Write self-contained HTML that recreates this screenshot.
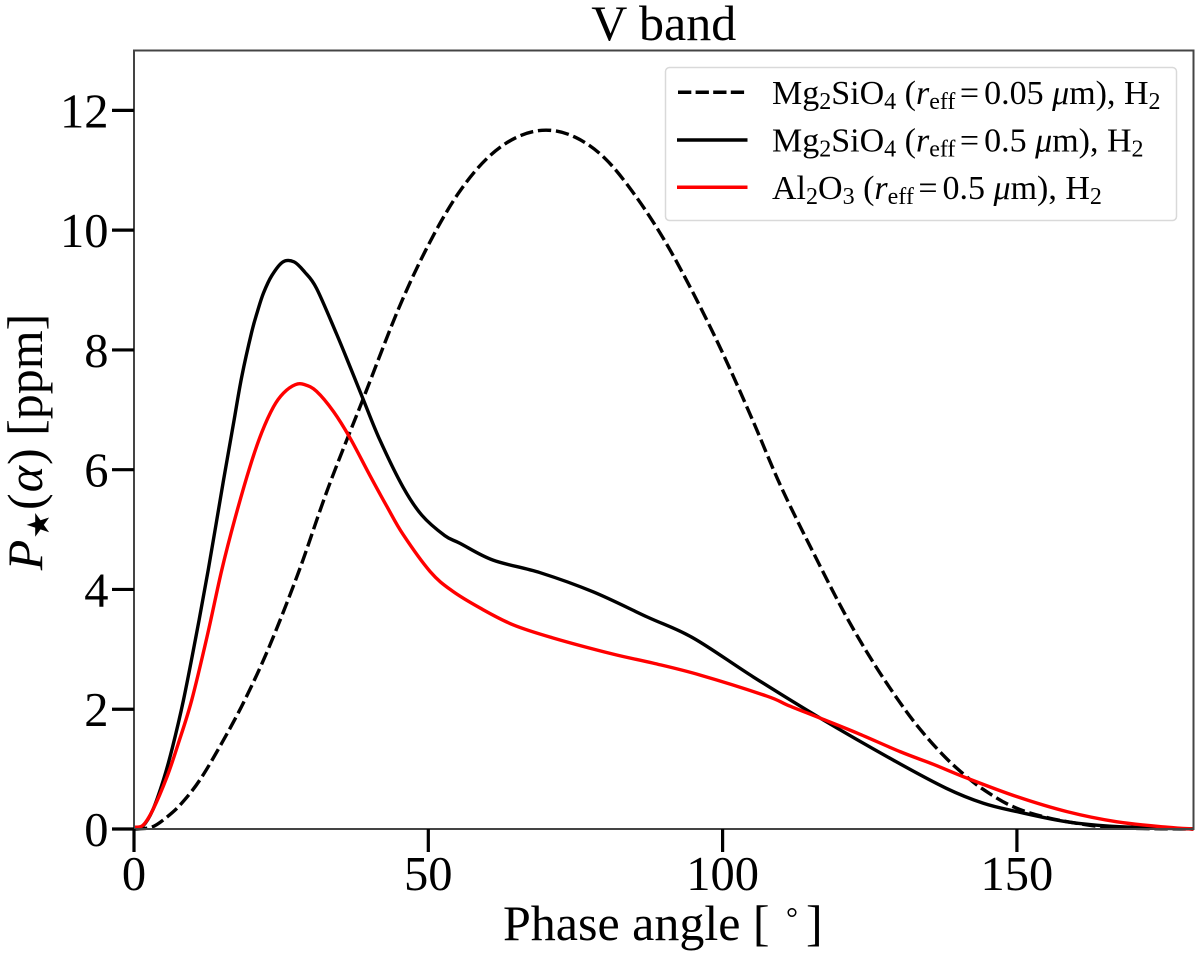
<!DOCTYPE html>
<html lang="en">
<head>
<meta charset="utf-8">
<title>V band phase curve</title>
<style>
html,body{margin:0;padding:0;background:#fff;}
svg{display:block;font-family:"Liberation Serif","DejaVu Serif",serif;fill:#000;}
</style>
</head>
<body>
<svg id="chart" xmlns="http://www.w3.org/2000/svg" width="1200" height="957" viewBox="0 0 1200 957">
  <rect x="0" y="0" width="1200" height="957" fill="#fff"/>
  <text x="663.75" y="40" font-size="50" text-anchor="middle">V band</text>
  <g id="series" fill="none"></g>
  <rect x="134" y="50.5" width="1059.5" height="778.5" fill="none" stroke="#444" stroke-width="2"/>
  <g id="ticks"></g>
  <text x="503" y="940" font-size="50">Phase angle [<tspan x="786" y="928" font-size="30">°</tspan><tspan x="806" y="940">]</tspan></text>
  <text transform="translate(42,442) rotate(-90)" font-size="50" text-anchor="middle"><tspan font-style="italic">P</tspan><tspan font-size="31" dy="7" dx="1">★</tspan><tspan dy="-7" dx="1">(</tspan><tspan font-style="italic" dx="1">α</tspan><tspan dx="1">)</tspan> [ppm]</text>

  <g>
    <rect x="665.5" y="67.5" width="511" height="153" rx="4" fill="#fff" stroke="#d9d9d9" stroke-width="1.5"/>
    <line x1="678" y1="92.3" x2="745" y2="92.3" stroke="#000" stroke-width="3.5" stroke-dasharray="13.3 4.3"/>
    <line x1="677" y1="140" x2="747.5" y2="140" stroke="#000" stroke-width="3.5"/>
    <line x1="677" y1="187.3" x2="747.5" y2="187.3" stroke="#f00" stroke-width="3.5"/>
    <text x="772" y="104" font-size="34">Mg<tspan font-size="24" dy="5">2</tspan><tspan dy="-5">SiO</tspan><tspan font-size="24" dy="5">4</tspan><tspan dy="-5"> (</tspan><tspan font-style="italic">r</tspan><tspan font-size="24" dy="5">eff</tspan><tspan dy="-5" dx="4.5">=</tspan><tspan dx="5">0.05 </tspan><tspan font-style="italic">μ</tspan>m), H<tspan font-size="24" dy="5">2</tspan></text>
    <text x="772" y="151.5" font-size="34">Mg<tspan font-size="24" dy="5">2</tspan><tspan dy="-5">SiO</tspan><tspan font-size="24" dy="5">4</tspan><tspan dy="-5"> (</tspan><tspan font-style="italic">r</tspan><tspan font-size="24" dy="5">eff</tspan><tspan dy="-5" dx="4.5">=</tspan><tspan dx="5">0.5 </tspan><tspan font-style="italic">μ</tspan>m), H<tspan font-size="24" dy="5">2</tspan></text>
    <text x="772" y="199" font-size="34">Al<tspan font-size="24" dy="5">2</tspan><tspan dy="-5">O</tspan><tspan font-size="24" dy="5">3</tspan><tspan dy="-5"> (</tspan><tspan font-style="italic">r</tspan><tspan font-size="24" dy="5">eff</tspan><tspan dy="-5" dx="4.5">=</tspan><tspan dx="5">0.5 </tspan><tspan font-style="italic">μ</tspan>m), H<tspan font-size="24" dy="5">2</tspan></text>
  </g>
</svg>
<script>
const xTickValues = [0, 50, 100, 150];
const yTickValues = [0, 2, 4, 6, 8, 10, 12];

const dashedAngles = [0, 3, 5.6, 8, 11.2, 15, 18.8, 23, 28, 33, 39, 45, 50, 55, 60, 65, 70, 75, 80, 85, 90, 95, 100, 105, 110, 116, 121, 125.6, 130, 133.6, 137.5, 140.9, 144.3, 149.4, 155.6, 164, 170, 180];
const dashedValues = [0, 0.03, 0.2, 0.42, 0.82, 1.45, 2.15, 3.05, 4.3, 5.7, 7.2, 8.7, 9.75, 10.6, 11.2, 11.55, 11.67, 11.55, 11.2, 10.6, 9.85, 8.95, 7.95, 6.85, 5.7, 4.5, 3.55, 2.78, 2.13, 1.66, 1.23, 0.92, 0.66, 0.37, 0.18, 0.04, 0.01, 0];

const solidAngles = [0, 1.5, 3.2, 5, 6.5, 8.4, 10.5, 12.6, 15.2, 16.9, 18.3, 20, 21, 22, 23.4, 25.3, 27.2, 29, 31, 34.4, 36.7, 39, 41.8, 45.7, 48.9, 52.8, 55.4, 61, 69, 78, 87.2, 95, 105.2, 116.6, 129, 138, 144.3, 150, 158.5, 167, 180];
const solidValues = [0.03, 0.05, 0.32, 0.82, 1.35, 2.15, 3.2, 4.32, 5.82, 6.77, 7.55, 8.3, 8.65, 8.95, 9.24, 9.47, 9.47, 9.3, 9.03, 8.27, 7.72, 7.16, 6.49, 5.71, 5.24, 4.9, 4.77, 4.49, 4.28, 3.96, 3.54, 3.19, 2.54, 1.85, 1.15, 0.68, 0.43, 0.29, 0.12, 0.04, 0];

const redAngles = [0, 1.5, 3.2, 5.6, 7.5, 9.8, 12.5, 14.9, 17.2, 19.7, 21.7, 23.7, 25.4, 27.4, 29, 31, 33.9, 36.7, 40.1, 43, 45.7, 50.3, 54, 58.8, 64.4, 71.2, 81.4, 88.2, 96.2, 107.5, 111, 116.6, 122.9, 130.2, 135.8, 141.5, 150, 158.5, 167, 175.5, 180];
const redValues = [0.03, 0.06, 0.32, 0.87, 1.42, 2.15, 3.25, 4.32, 5.2, 6.05, 6.62, 7.05, 7.28, 7.42, 7.42, 7.31, 6.97, 6.53, 5.9, 5.38, 4.92, 4.3, 3.98, 3.69, 3.41, 3.19, 2.92, 2.77, 2.57, 2.22, 2.07, 1.85, 1.6, 1.29, 1.08, 0.85, 0.54, 0.29, 0.12, 0.03, 0];

const svgNS = 'http://www.w3.org/2000/svg';
const xScale = function (a) { return 134 + (a / 180) * 1059.5; };
const yScale = function (v) { return 829 - (v / 13) * 778.5; };

function curvePath(xs, ys) {
  const p = xs.map(function (a, i) { return [xScale(a), yScale(ys[i])]; });
  let d = 'M' + p[0][0].toFixed(2) + ' ' + p[0][1].toFixed(2);
  for (let i = 0; i < p.length - 1; i++) {
    const p0 = p[Math.max(0, i - 1)];
    const p1 = p[i];
    const p2 = p[i + 1];
    const p3 = p[Math.min(p.length - 1, i + 2)];
    const c1x = p1[0] + (p2[0] - p0[0]) / 6;
    const c1y = p1[1] + (p2[1] - p0[1]) / 6;
    const c2x = p2[0] - (p3[0] - p1[0]) / 6;
    const c2y = p2[1] - (p3[1] - p1[1]) / 6;
    d += 'C' + c1x.toFixed(2) + ' ' + c1y.toFixed(2) + ' ' + c2x.toFixed(2) + ' ' + c2y.toFixed(2) + ' ' + p2[0].toFixed(2) + ' ' + p2[1].toFixed(2);
  }
  return d;
}

const seriesGroup = document.getElementById('series');

const dashedLine = document.createElementNS(svgNS, 'path');
dashedLine.setAttribute('d', curvePath(dashedAngles, dashedValues));
dashedLine.setAttribute('stroke', '#000');
dashedLine.setAttribute('stroke-width', '3.4');
dashedLine.setAttribute('stroke-dasharray', '13.3 4.8');


seriesGroup.appendChild(dashedLine);

const solidLine = document.createElementNS(svgNS, 'path');
solidLine.setAttribute('d', curvePath(solidAngles, solidValues));
solidLine.setAttribute('stroke', '#000');
solidLine.setAttribute('stroke-width', '3.4');


seriesGroup.appendChild(solidLine);

const redLine = document.createElementNS(svgNS, 'path');
redLine.setAttribute('d', curvePath(redAngles, redValues));
redLine.setAttribute('stroke', '#f00');
redLine.setAttribute('stroke-width', '3.4');


seriesGroup.appendChild(redLine);

const tickGroup = document.getElementById('ticks');

xTickValues.forEach(function (t) {
  const mark = document.createElementNS(svgNS, 'line');
  mark.setAttribute('x1', xScale(t));
  mark.setAttribute('x2', xScale(t));
  mark.setAttribute('y1', 829);
  mark.setAttribute('y2', 852);
  mark.setAttribute('stroke', '#000');
  mark.setAttribute('stroke-width', '3.2');
  
  
  tickGroup.appendChild(mark);
  const label = document.createElementNS(svgNS, 'text');
  label.setAttribute('x', xScale(t));
  label.setAttribute('y', 890);
  label.setAttribute('font-size', '48.5');
  label.setAttribute('text-anchor', 'middle');
  label.textContent = t;
  
  
  tickGroup.appendChild(label);
});

yTickValues.forEach(function (t) {
  const mark = document.createElementNS(svgNS, 'line');
  mark.setAttribute('x1', 112);
  mark.setAttribute('x2', 134);
  mark.setAttribute('y1', yScale(t));
  mark.setAttribute('y2', yScale(t));
  mark.setAttribute('stroke', '#000');
  mark.setAttribute('stroke-width', '3.2');
  
  
  tickGroup.appendChild(mark);
  const label = document.createElementNS(svgNS, 'text');
  label.setAttribute('x', 108.5);
  label.setAttribute('y', yScale(t) + 17);
  label.setAttribute('font-size', '48.5');
  label.setAttribute('text-anchor', 'end');
  label.textContent = t;
  
  
  tickGroup.appendChild(label);
});
</script>
</body>
</html>
